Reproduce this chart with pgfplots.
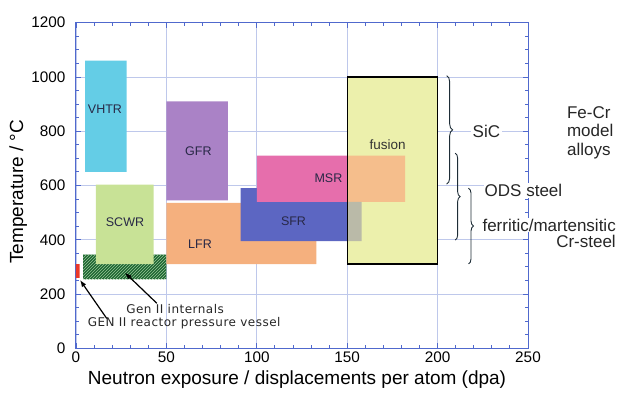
\documentclass[border=0pt]{standalone}
\usepackage{fontspec}
\setmainfont{Liberation Sans}
\newfontfamily\verdanalike[LetterSpace=4]{DejaVu Sans}
\usepackage{pgfplots}
\pgfplotsset{compat=1.18}
\usetikzlibrary{patterns,decorations.pathreplacing,arrows.meta}

\definecolor{axisblue}{RGB}{80,105,205}
\definecolor{gridblue}{RGB}{190,200,235}
\definecolor{vhtr}{RGB}{100,205,230}
\definecolor{gfr}{RGB}{170,130,198}
\definecolor{scwr}{RGB}{200,226,150}
\definecolor{lfr}{RGB}{245,176,126}
\definecolor{sfr}{RGB}{92,102,194}
\definecolor{msr}{RGB}{230,110,172}
\definecolor{fusion}{RGB}{236,240,172}
\definecolor{fusmsr}{RGB}{245,190,140}
\definecolor{fussfr}{RGB}{186,186,168}
\definecolor{rpv}{RGB}{235,55,40}
\definecolor{hatchdark}{RGB}{30,100,50}
\definecolor{hatchlight}{RGB}{150,200,150}
\definecolor{labtext}{RGB}{40,40,70}
\definecolor{bracecol}{RGB}{30,45,55}

% rectangle from (x1,y1) to (x2,y2)
\newcommand\region[5]{%
  \addplot[fill=#1, draw=none] coordinates {(#2,#3) (#4,#3) (#4,#5) (#2,#5) (#2,#3)};}

\begin{document}
\begin{tikzpicture}
\path[use as bounding box] (-76pt,-43.7pt) rectangle (550pt,348.3pt);
\begin{axis}[
  at={(0,0)}, anchor=south west,
  scale only axis, width=452pt, height=325.6pt,
  xmin=0, xmax=250, ymin=0, ymax=1200,
  xtick={0,50,...,250}, ytick={0,200,...,1200},
  minor x tick num=4, minor y tick num=3,
  tick align=inside,
  major tick length=5pt, minor tick length=3.5pt,
  grid=major,
  major grid style={color=gridblue, line width=0.7pt},
  axis line style={color=axisblue, line width=1pt},
  every tick/.style={color=axisblue, line width=0.9pt},
  tick label style={font=\fontsize{15.3}{17}\selectfont, color=black},
  /pgf/number format/assume math mode=true,
  /pgf/number format/1000 sep={},
  yticklabel style={xshift=-7pt},
  xlabel={Neutron exposure / displacements per atom (dpa)},
  ylabel={Temperature / \textdegree C},
  every axis x label/.style={at={(axis description cs:0.489,-0.0974)}, anchor=center, font=\fontsize{19}{22}\selectfont},
  every axis y label/.style={at={(axis description cs:-0.128,0.481)}, anchor=center, rotate=90, font=\fontsize{19}{22}\selectfont},
  clip=false,
]
% reactor operating windows
\region{vhtr}{5}{650}{28}{1060}
\region{gfr}{50}{545}{84}{910}
\region{hatchdark}{4}{255}{50}{345}
\addplot[pattern=north east lines, pattern color=hatchlight, draw=none]
  coordinates {(4,255) (50,255) (50,345) (4,345) (4,255)};
\region{scwr}{11}{310}{43}{603}
\region{rpv}{0}{260}{2}{310}
\region{lfr}{50}{310}{133}{536}
\region{sfr}{91}{395}{158}{590}
\region{msr}{100}{540}{182}{710}
\region{fusion}{150}{310}{200}{1000}
\region{fusmsr}{150}{540}{182}{710}
\region{fussfr}{150}{395}{158}{540}
\addplot[draw=black, line width=1.4pt, line join=miter]
  coordinates {(150,310) (200,310) (200,1000) (150,1000) (150,310)};

% labels of the windows
\begin{scope}[font=\fontsize{12.5}{14}\selectfont, text=labtext]
\node at (axis cs:16,882) {VHTR};
\node at (axis cs:67.7,725) {GFR};
\node at (axis cs:27.1,464) {SCWR};
\node at (axis cs:68.6,384) {LFR};
\node at (axis cs:120.3,469) {SFR};
\node at (axis cs:139.6,627) {MSR};
\node[font=\fontsize{13.5}{15}\selectfont, text=black!80] at (axis cs:172.3,749) {fusion};
\end{scope}

% Gen II annotations
\draw[line width=1.2pt, -{Latex[length=7pt,width=5pt]}] (axis cs:44.7,166) -- (axis cs:27,279);
\draw[line width=1.2pt, -{Latex[length=7pt,width=5pt]}] (axis cs:17,110) -- (axis cs:2.2,252);
\node[font=\verdanalike\fontsize{12}{14}\selectfont, text=black!85, inner sep=0pt, anchor=base] at (axis cs:54.8,127) {Gen II internals};
\node[font=\verdanalike\fontsize{12}{14}\selectfont, text=black!85, inner sep=0pt, anchor=base] at (axis cs:59.8,79) {GEN II reactor pressure vessel};

% materials braces
\draw[bracecol, line width=0.9pt, decorate, decoration={brace, amplitude=6pt}]
  (axis cs:205,1005) -- (axis cs:205,605);
\draw[bracecol, line width=0.9pt, decorate, decoration={brace, amplitude=5pt}]
  (axis cs:209.7,719) -- (axis cs:209.7,399);
\draw[bracecol, line width=0.9pt, decorate, decoration={brace, amplitude=5pt}]
  (axis cs:217.1,590) -- (axis cs:217.1,311);

\begin{scope}[font=\fontsize{17}{18.5}\selectfont, text=black!85]
\node[fill=white, inner sep=2pt] at (axis cs:227,800) {SiC};
\node[fill=white, inner sep=1pt, anchor=west] at (axis cs:225.4,581) {ODS steel};
\node[fill=white, inner sep=1pt, anchor=east] at (axis cs:299.2,454.5) {ferritic/martensitic};
\node[inner sep=1pt, anchor=east] at (axis cs:299.2,393) {Cr-steel};
\node[inner sep=0pt, anchor=west, align=left] at (axis cs:271.5,795) {Fe-Cr\\model\\alloys};
\end{scope}
\end{axis}
\end{tikzpicture}
\end{document}
